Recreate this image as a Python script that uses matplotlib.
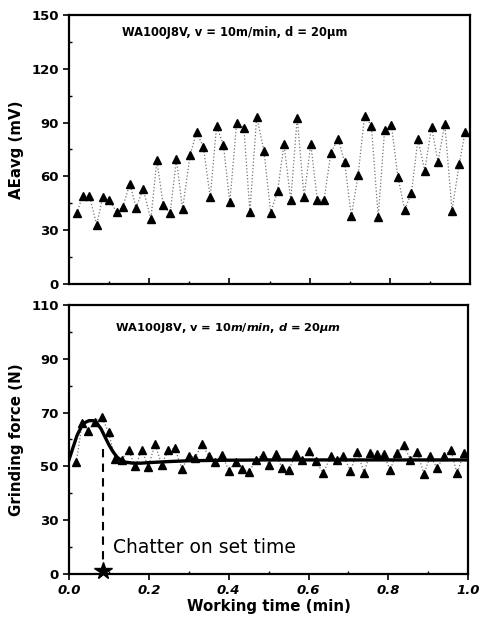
import numpy as np
import matplotlib
matplotlib.use("Agg")
import matplotlib.pyplot as plt

plt.rcParams['font.family'] = ['DejaVu Sans']
plt.rcParams['mathtext.fontset'] = 'custom'
plt.rcParams['mathtext.it'] = 'DejaVu Sans:bold:italic'
plt.rcParams['mathtext.rm'] = 'DejaVu Sans:bold'

# top panel: AE average signal
ae_t = [0.019, 0.034, 0.051, 0.069, 0.084, 0.100, 0.119, 0.134, 0.152, 0.167,
        0.185, 0.204, 0.219, 0.235, 0.252, 0.268, 0.283, 0.302, 0.318, 0.335,
        0.352, 0.368, 0.385, 0.401, 0.418, 0.436, 0.451, 0.468, 0.486, 0.503,
        0.520, 0.536, 0.553, 0.569, 0.586, 0.603, 0.619, 0.636, 0.653, 0.671,
        0.687, 0.704, 0.721, 0.737, 0.754, 0.771, 0.787, 0.804, 0.820, 0.837,
        0.854, 0.870, 0.887, 0.904, 0.920, 0.937, 0.955, 0.973, 0.988]
ae_v = [39.4, 49, 49, 33, 48.5, 47, 40, 43, 56, 42.5,
        53, 36, 69, 44, 39.4, 69.5, 41.6, 72, 84.6, 76.6,
        48.3, 88, 77.5, 45.5, 89.8, 87.2, 40.3, 93.3, 74.3, 39.8,
        51.7, 77.9, 46.8, 92.7, 48.7, 78, 46.8, 46.8, 73.2, 81,
        68, 37.9, 60.8, 93.9, 88.3, 37.4, 86, 88.5, 59.9, 41.3,
        51, 80.7, 63.2, 87.5, 68, 89.4, 40.9, 66.9, 85]

# bottom panel: grinding force
f_t = [0.018, 0.033, 0.048, 0.065, 0.082, 0.099, 0.116, 0.132, 0.149, 0.166,
       0.182, 0.199, 0.215, 0.232, 0.249, 0.265, 0.283, 0.300, 0.316, 0.333,
       0.350, 0.366, 0.383, 0.401, 0.417, 0.434, 0.451, 0.468, 0.485, 0.501,
       0.518, 0.534, 0.551, 0.568, 0.584, 0.601, 0.618, 0.637, 0.655, 0.670,
       0.687, 0.705, 0.722, 0.739, 0.755, 0.772, 0.788, 0.804, 0.821, 0.838,
       0.855, 0.872, 0.889, 0.905, 0.922, 0.939, 0.956, 0.972, 0.989]
f_v = [51.5, 66.0, 63.3, 66.5, 68.3, 62.7, 52.6, 52.5, 56.0, 50.1,
       56.0, 49.8, 58.4, 50.7, 56.0, 56.7, 49.0, 54.0, 53.2, 58.3,
       53.8, 51.5, 54.2, 48.4, 51.8, 49.2, 47.9, 52.5, 54.4, 50.6,
       54.7, 49.3, 48.8, 54.6, 52.3, 55.9, 52.0, 47.4, 53.8, 52.4,
       53.9, 48.4, 55.5, 47.7, 55.1, 54.6, 54.6, 48.7, 54.9, 58.0,
       52.5, 55.5, 47.2, 53.9, 49.3, 53.9, 56.1, 47.4, 55.1]

# fitted trend curve
fit_t = [0, 0.01, 0.02, 0.03, 0.04, 0.05, 0.06, 0.07, 0.08, 0.09, 0.10, 0.11,
         0.12, 0.13, 0.14, 0.16, 0.18, 0.20, 0.25, 0.30, 0.40, 0.50, 0.60, 0.80, 1.0]
fit_v = [52.5, 57, 61.5, 64.5, 66.3, 67, 67, 66, 64, 61, 58, 55.5,
         53.5, 52.3, 51.6, 51.2, 51.2, 51.4, 51.8, 52.1, 52.3, 52.4, 52.4, 52.4, 52.4]

onset_t = 0.085
onset_f = 58.5

force_ticks = [10, 30, 50, 70, 90, 110]
force_labels = ['0', '30', '50', '70', '90', '110']
time_ticks = [0.0, 0.2, 0.4, 0.6, 0.8, 1.0]

fig = plt.figure(figsize=(4.81, 6.19), dpi=100)
ax1 = fig.add_axes([0.1435, 0.5412, 0.8337, 0.4346])
ax2 = fig.add_axes([0.1435, 0.0727, 0.830, 0.4346])

for ax in (ax1, ax2):
  for s in ax.spines.values():
    s.set_linewidth(1.6)
  ax.tick_params(which='major', direction='out', length=4, width=1.2, labelsize=9.5)
  ax.tick_params(which='minor', direction='in', length=2.5, width=1)

ax1.plot(ae_t, ae_v, ':', color='0.45', lw=0.9)
ax1.plot(ae_t, ae_v, '^', color='k', ms=5.5, ls='none')
ax1.set_xlim(0, 1.0)
ax1.set_ylim(0, 150)
ax1.set_yticks([0, 30, 60, 90, 120, 150])
ax1.set_yticks([15, 45, 75, 105, 135], minor=True)
ax1.set_yticklabels(['0', '30', '60', '90', '120', '150'], fontweight='bold', fontsize=9.5)
ax1.set_xticks(time_ticks)
ax1.set_xticks([0.1, 0.3, 0.5, 0.7, 0.9], minor=True)
ax1.tick_params(axis='x', which='both', direction='in', labelbottom=False)
ax1.set_ylabel('AEavg (mV)', fontweight='bold', fontsize=10.8, labelpad=5)
ax1.text(0.132, 140, 'WA100J8V, v = 10m/min, d = 20\u03bcm', fontsize=8.3,
         fontweight='bold', va='center')

ax2.plot(f_t, f_v, ':', color='0.45', lw=0.9)
ax2.plot(f_t, f_v, '^', color='k', ms=5.5, ls='none')
ax2.plot(fit_t, fit_v, '-', color='k', lw=2.4)
ax2.plot([onset_t, onset_t], [10, onset_f], '--', color='k', lw=1.5, dashes=(4, 3))
ax2.plot([onset_t], [11], '*', color='k', ms=13, clip_on=False, zorder=5)
ax2.text(0.111, 20, 'Chatter on set time', fontsize=13.5, va='center')
ax2.text(0.115, 101.5, r'WA100J8V, v = 10$\mathit{m/min}$, $\mathit{d}$ = 20$\mathit{\mu m}$',
         fontsize=8.2, fontweight='bold', va='center')
ax2.set_xlim(0, 1.0)
ax2.set_ylim(10, 110)
ax2.set_yticks(force_ticks)
ax2.set_yticks([20, 40, 60, 80, 100], minor=True)
ax2.set_yticklabels(force_labels, fontweight='bold', fontsize=9.5)
ax2.set_xticks(time_ticks)
ax2.set_xticks([0.1, 0.3, 0.5, 0.7, 0.9], minor=True)
ax2.set_xticklabels(['%.1f' % t for t in time_ticks], fontweight='bold',
                    fontstyle='italic', fontsize=9.5)
ax2.set_xlabel('Working time (min)', fontweight='bold', fontsize=10.8, labelpad=1)
ax2.set_ylabel('Grinding force (N)', fontweight='bold', fontsize=10.8, labelpad=5)

fig.savefig('out.png', dpi=100)
